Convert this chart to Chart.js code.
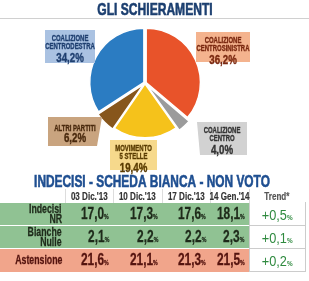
<!DOCTYPE html>
<html>
<head>
<meta charset="utf-8">
<script src="https://cdn.jsdelivr.net/npm/chart.js@4/dist/chart.umd.min.js"></script>
<style>
body{margin:0;width:309px;height:281px;background:#fff;overflow:hidden;position:relative;font-family:"Liberation Sans",Arial,sans-serif}
#torta{position:absolute;left:0;top:0}
#tab{position:absolute;left:0;top:189px;width:305px;border-collapse:collapse;table-layout:fixed}
#tab td,#tab th{padding:0;white-space:nowrap}
#tab th{height:13px;font-size:11.5px;color:#333;font-weight:bold;border-left:1px solid #ddd;-webkit-text-stroke:0.2px currentColor}
#tab th:first-child{border-left:none}
#tab td{height:22px;border-top:1px solid #fff}
.f{display:flex;flex-direction:column;justify-content:center;align-items:flex-end}
th .f{height:13px;align-items:center}
td .f{height:22px}
td.lab .f{padding-right:3px;font-weight:bold;font-size:12.5px;line-height:10.5px;-webkit-text-stroke:0.3px currentColor}
td.val .f{padding-right:4px;font-weight:bold;font-size:17px;-webkit-text-stroke:0.3px currentColor}
td.tr{background:#fff;color:#2f8a3f;font-size:15px;border:1px solid #ccc}
td.tr .f{align-items:center}
.c{display:block;transform:scaleX(.7);transform-origin:right center}
th .c,td.tr .c{transform-origin:center}
td.tr .c{transform:scaleX(.85)}
small{font-size:7.5px;font-weight:bold}
</style>
</head>
<body>
<canvas id="torta" width="309" height="190"></canvas>
<table id="tab"></table>
<script>
// dati torta (in senso orario dall'alto)
const schieramenti = ["COALIZIONE\nCENTROSINISTRA", "COALIZIONE\nCENTRO", "MOVIMENTO\n5 STELLE", "ALTRI PARTITI", "COALIZIONE\nCENTRODESTRA"]
const percentuali = [36.2, 4.0, 19.4, 6.2, 34.2]
const coloriFette = ["#e8532a", "#9b9b9b", "#f5c21b", "#87561c", "#2b7cc2"]
const coloriBox = ["#f4b38e", "#d2d2d2", "#f6d98c", "#c9a47f", "#aac2e2"]
const coloriTesto = ["#7a2810", "#333333", "#5a3c00", "#4a2a0e", "#1f3f70"]

// dati tabella
const date = ["03 Dic.'13", "10 Dic.'13", "17 Dic.'13", "14 Gen.'14"]
const voci = ["Indecisi\nNR", "Bianche\nNulle", "Astensione"]
const indecisi = [17.0, 17.3, 17.6, 18.1]
const bianche = [2.1, 2.2, 2.2, 2.3]
const astensione = [21.6, 21.1, 21.3, 21.5]
const trend = [0.5, 0.1, 0.2]

const fmt = v => v.toFixed(1).replace(".", ",")
const FONT = '"Liberation Sans",Arial,sans-serif'

// testo "condensato" (e un po' piu' nero) sul canvas
function testo(ctx, t, x, y, sx, sw) {
  ctx.save()
  ctx.translate(x, y)
  ctx.scale(sx, 1)
  ctx.fillText(t, 0, 0)
  if (sw) {
    ctx.strokeStyle = ctx.fillStyle
    ctx.lineWidth = sw
    ctx.strokeText(t, 0, 0)
  }
  ctx.restore()
}

// riquadri etichetta (x, y, larghezza, altezza, lato obliquo)
const boxes = [
  {x:196, y:32, w:54, h:30, obl:0},
  {x:197, y:122, w:50, h:33, obl:-1},
  {x:110, y:140, w:47, h:30, obl:0},
  {x:48, y:117, w:54, h:29, obl:1},
  {x:45, y:30, w:50, h:33, obl:0}
]

const etichette = {
  id: "etichette",
  beforeDraw(chart) {
    const ctx = chart.ctx
    ctx.save()
    ctx.textAlign = "center"
    ctx.textBaseline = "alphabetic"
    ctx.fillStyle = "#1c3f70"
    ctx.font = "bold 17px " + FONT
    testo(ctx, "GLI SCHIERAMENTI", 155, 15, 0.71, 0.6)
    ctx.fillStyle = "#1f4f91"
    testo(ctx, "INDECISI - SCHEDA BIANCA - NON VOTO", 152, 187, 0.70, 0.6)
    ctx.strokeStyle = "#d0d0d0"
    ctx.lineWidth = 1
    ctx.beginPath()
    ctx.moveTo(0, 18.5)
    ctx.lineTo(309, 18.5)
    ctx.stroke()
    ctx.restore()
  },
  afterDatasetsDraw(chart) {
    const ctx = chart.ctx
    ctx.save()
    schieramenti.forEach((nome, i) => {
      const b = boxes[i]
      ctx.fillStyle = coloriBox[i]
      ctx.beginPath()
      if (b.obl == 1) {
        ctx.moveTo(b.x, b.y); ctx.lineTo(b.x + b.w, b.y)
        ctx.lineTo(b.x + b.w - 5, b.y + b.h); ctx.lineTo(b.x, b.y + b.h)
      } else if (b.obl == -1) {
        ctx.moveTo(b.x, b.y); ctx.lineTo(b.x + b.w, b.y); ctx.lineTo(b.x + b.w, b.y + b.h)
        ctx.lineTo(b.x + 3, b.y + b.h)
      } else {
        ctx.rect(b.x, b.y, b.w, b.h)
      }
      ctx.closePath()
      ctx.fill()
      const righe = nome.split("\n")
      const cx = b.x + b.w / 2
      ctx.fillStyle = coloriTesto[i]
      ctx.textAlign = "center"
      ctx.textBaseline = "alphabetic"
      ctx.font = "bold 8.5px " + FONT
      let y = b.y + (righe.length == 1 ? 14 : 10.5)
      righe.forEach(r => { testo(ctx, r, cx, y, 0.7, 0.35); y += 8.5 })
      ctx.font = "bold 13.5px " + FONT
      testo(ctx, fmt(percentuali[i]) + "%", cx, y + (righe.length == 1 ? 2.5 : 4), 0.72, 0.4)
    })
    ctx.restore()
  }
}

new Chart(document.getElementById("torta"), {
  type: "pie",
  data: {
    labels: schieramenti,
    datasets: [{
      data: percentuali,
      backgroundColor: coloriFette,
      borderColor: "#ffffff",
      borderWidth: 1.5,
      offset: [5, 10, 3, 6, 5],
      radius: 54
    }]
  },
  options: {
    responsive: false,
    animation: false,
    layout: {padding: {left: 0, right: 19, top: 18, bottom: 42}},
    plugins: {legend: {display: false}, tooltip: {enabled: false}}
  },
  plugins: [etichette]
})

// tabella
const tab = document.getElementById("tab")
const larghezze = [65, 48, 49, 48, 39, 56]
const c = t => '<span class="c">' + t + "</span>"
const f = t => '<div class="f">' + t + "</div>"
let html = "<colgroup>" + larghezze.map(w => '<col style="width:' + w + 'px">').join("") + "</colgroup>"
html += "<tr><th></th>" + date.map(d => "<th>" + f(c(d)) + "</th>").join("") + '<th style="color:#555">' + f(c("Trend*")) + "</th></tr>"
const righe = [indecisi, bianche, astensione]
const sfondi = ["#90c293", "#90c293", "#f1a58b"]
const coloriVal = ["#1e2a1a", "#1e2a1a", "#55140f"]
righe.forEach((serie, r) => {
  html += '<tr style="background:' + sfondi[r] + ";color:" + coloriVal[r] + '">'
  html += '<td class="lab">' + f(voci[r].split("\n").map(c).join("")) + "</td>"
  serie.forEach(v => { html += '<td class="val">' + f(c(fmt(v) + "<small>%</small>")) + "</td>" })
  html += '<td class="tr">' + f(c("+" + fmt(trend[r]) + "<small>%</small>")) + "</td></tr>"
})
tab.innerHTML = html
</script>
</body>
</html>
